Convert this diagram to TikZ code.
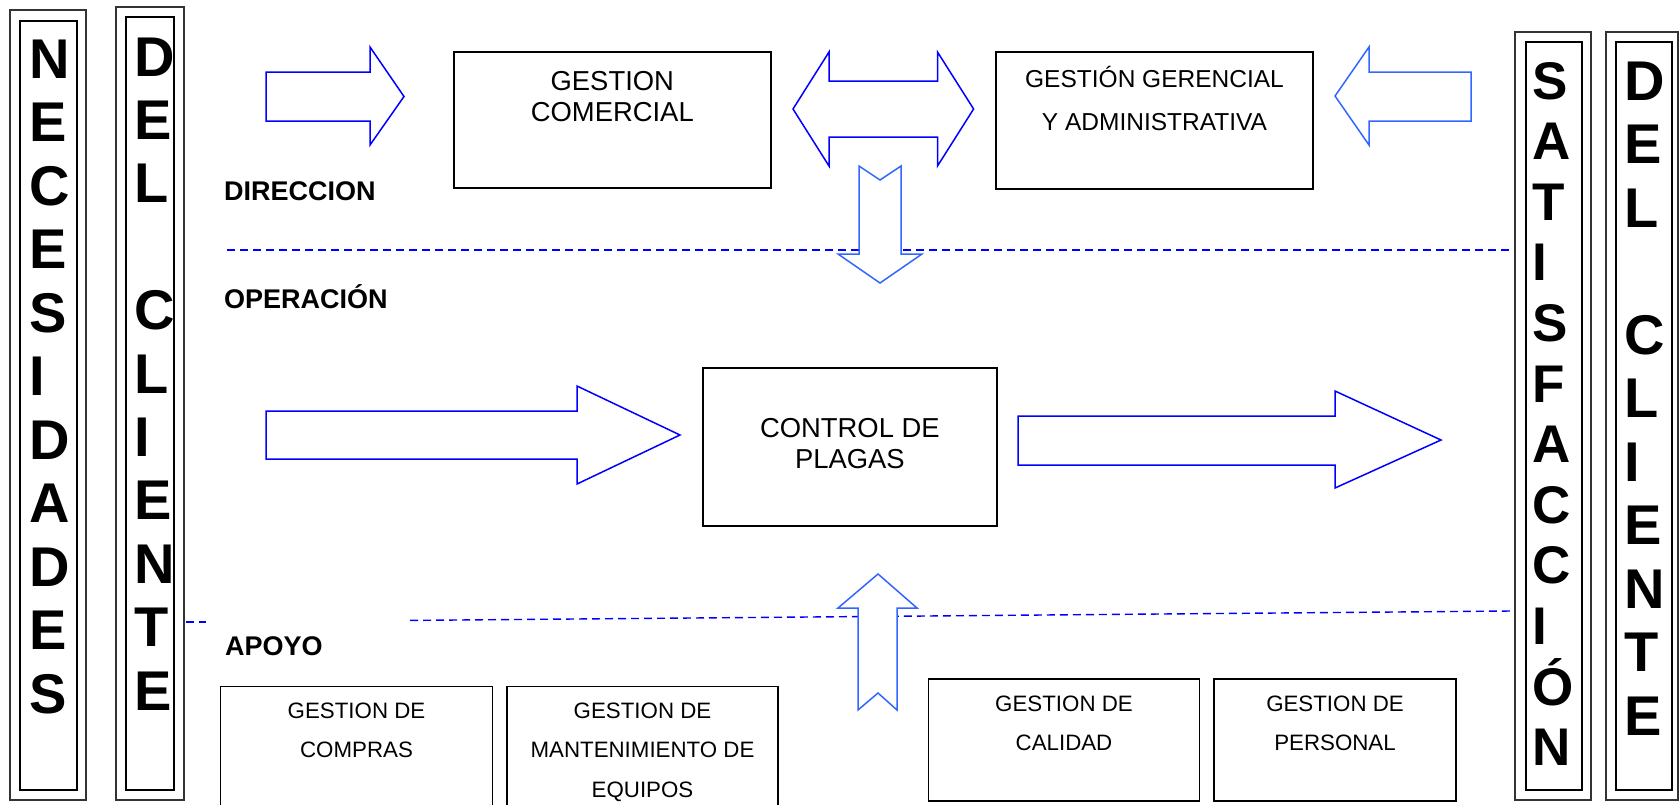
\documentclass[tikz,border=0pt]{standalone}
\usepackage{fontspec}
\setmainfont{Liberation Sans}
\definecolor{ablue}{RGB}{0,0,255}
\definecolor{lblue}{RGB}{51,102,255}
\begin{document}
\begin{tikzpicture}[x=1pt,y=-1pt,
  box/.style={draw=black,line width=1.5pt,inner sep=0pt},
  outerbox/.style={draw=black!80,line width=1.4pt,inner sep=0pt},
  innerbox/.style={draw=black,line width=2pt,inner sep=0pt},
  bigletter/.style={inner sep=0pt,anchor=base west,font=\fontsize{56}{60}\selectfont\bfseries},
  satletter/.style={inner sep=0pt,anchor=base west,font=\fontsize{53}{58}\selectfont\bfseries},
  lbl/.style={inner sep=0pt,anchor=base west,font=\fontsize{27}{30}\selectfont\bfseries},
  txtA/.style={inner sep=0pt,anchor=base,font=\fontsize{27.4}{30}\selectfont},
  txtB/.style={inner sep=0pt,anchor=base,font=\fontsize{24.5}{28}\selectfont},
  txtC/.style={inner sep=0pt,anchor=base,font=\fontsize{22.3}{26}\selectfont},
  barrow/.style={draw=ablue,line width=1.5pt,fill=white,line join=miter},
  larrow/.style={draw=lblue,line width=1.5pt,fill=white,line join=miter},
  sep/.style={draw=ablue,line width=1.4pt,dash pattern=on 8pt off 5pt}]
\useasboundingbox (0,0) rectangle (1680,804);
\clip (0,0) rectangle (1680,804);

% vertical letter columns
\node[outerbox,minimum width=76pt,minimum height=790pt] (necO) at (48,405) {};
\node[innerbox,minimum width=57pt,minimum height=769pt] (necI) at (48.5,405.5) {};
\node[outerbox,minimum width=68pt,minimum height=793pt] (dlO) at (150,403.5) {};
\node[innerbox,minimum width=48pt,minimum height=773pt] (dlI) at (150,403.5) {};
\node[outerbox,minimum width=76pt,minimum height=768pt] (satO) at (1553,416) {};
\node[innerbox,minimum width=56pt,minimum height=748pt] (satI) at (1554,416) {};
\node[outerbox,minimum width=72pt,minimum height=768pt] (drO) at (1642,416) {};
\node[innerbox,minimum width=56pt,minimum height=748pt] (drI) at (1644,416) {};

\foreach \l [count=\i from 0] in {N,E,C,E,S,I,D,A,D,E,S}
  \node[bigletter] (nec\i) at (29,{78+63.5*\i}) {\l};
\foreach \l/\i in {D/0,E/1,L/2,C/4,L/5,I/6,E/7,N/8,T/9,E/10}
  \node[bigletter] (dl\i) at (134,{76+63.4*\i}) {\l};
\foreach \l [count=\i from 0] in {S,A,T,I,S,F,A,C,C,I,Ó,N}
  \node[satletter] (sat\i) at (1532,{99+60.6*\i}) {\l};
\foreach \l/\i in {D/0,E/1,L/2,C/4,L/5,I/6,E/7,N/8,T/9,E/10}
  \node[bigletter] (dr\i) at (1624,{100+63.5*\i}) {\l};

% level labels
\node[lbl] (dir) at (224,200) {DIRECCION};
\node[lbl] (ope) at (224,308) {OPERACIÓN};
\node[lbl] (apo) at (225,655) {APOYO};

% dashed separators
\coordinate (s1a) at (227,250);
\coordinate (s1b) at (1511,250);
\draw[sep] (s1a) -- (s1b);
\coordinate (s2a) at (186,622);
\coordinate (s2b) at (206,622);
\draw[sep] (s2a) -- (s2b);
\coordinate (s3a) at (410,620.4);
\coordinate (s3b) at (1511,611);
\draw[sep] (s3a) -- (s3b);

% boxes
\node[box,minimum width=317pt,minimum height=136pt] (com) at (612.3,120) {};
\node[txtA] (com1) at (612.3,90) {GESTION};
\node[txtA] (com2) at (612.3,121) {COMERCIAL};

\node[box,minimum width=317pt,minimum height=137pt] (ger) at (1154.5,120.5) {};
\node[txtB] (ger1) at (1154.5,87) {GESTIÓN GERENCIAL};
\node[txtB] (ger2) at (1154.5,130) {Y ADMINISTRATIVA};

\node[box,minimum width=294pt,minimum height=158pt] (ctl) at (849.9,447) {};
\node[txtA] (ctl1) at (849.9,437) {CONTROL DE};
\node[txtA] (ctl2) at (849.9,468) {PLAGAS};

\node[box,minimum width=272pt,minimum height=143pt] (cmp) at (356.5,758) {};
\node[txtC] (cmp1) at (356.5,718) {GESTION DE};
\node[txtC] (cmp2) at (356.5,757) {COMPRAS};

\node[box,minimum width=271pt,minimum height=143pt] (man) at (642.5,758) {};
\node[txtC] (man1) at (642.5,718) {GESTION DE};
\node[txtC] (man2) at (642.5,757) {MANTENIMIENTO DE};
\node[txtC] (man3) at (642.5,797) {EQUIPOS};

\node[box,minimum width=271pt,minimum height=122pt] (cal) at (1064,740) {};
\node[txtC] (cal1) at (1064,711.7) {GESTION DE};
\node[txtC] (cal2) at (1064,750) {CALIDAD};

\node[box,minimum width=242pt,minimum height=122pt] (per) at (1335,740) {};
\node[txtC] (per1) at (1335,711.7) {GESTION DE};
\node[txtC] (per2) at (1335,750) {PERSONAL};

% block arrows
\draw[barrow] (266,72) -- (370,72) -- (370,47) -- (404,96.5) -- (370,145) -- (370,121) -- (266,121) -- cycle;
\draw[barrow] (793,109) -- (829,52) -- (829,81) -- (937.5,81) -- (937.5,52) -- (973.6,109) -- (937.5,166) -- (937.5,137) -- (829,137) -- (829,166) -- cycle;
\draw[larrow] (859,166) -- (880,180) -- (901,166) -- (901,254) -- (922,254) -- (880,283) -- (838,254) -- (859,254) -- cycle;
\draw[larrow] (1335,96) -- (1369,47) -- (1369,72) -- (1471,72) -- (1471,121) -- (1369,121) -- (1369,145) -- cycle;
\draw[barrow] (266,411) -- (577,411) -- (577,386) -- (680,435) -- (577,484) -- (577,459) -- (266,459) -- cycle;
\draw[barrow] (1018,416) -- (1335,416) -- (1335,391) -- (1441,440) -- (1335,488) -- (1335,465) -- (1018,465) -- cycle;
\draw[larrow] (878,574) -- (917,608) -- (897,608) -- (897,710) -- (878,693) -- (858,710) -- (858,608) -- (838,608) -- cycle;
\end{tikzpicture}
\end{document}
